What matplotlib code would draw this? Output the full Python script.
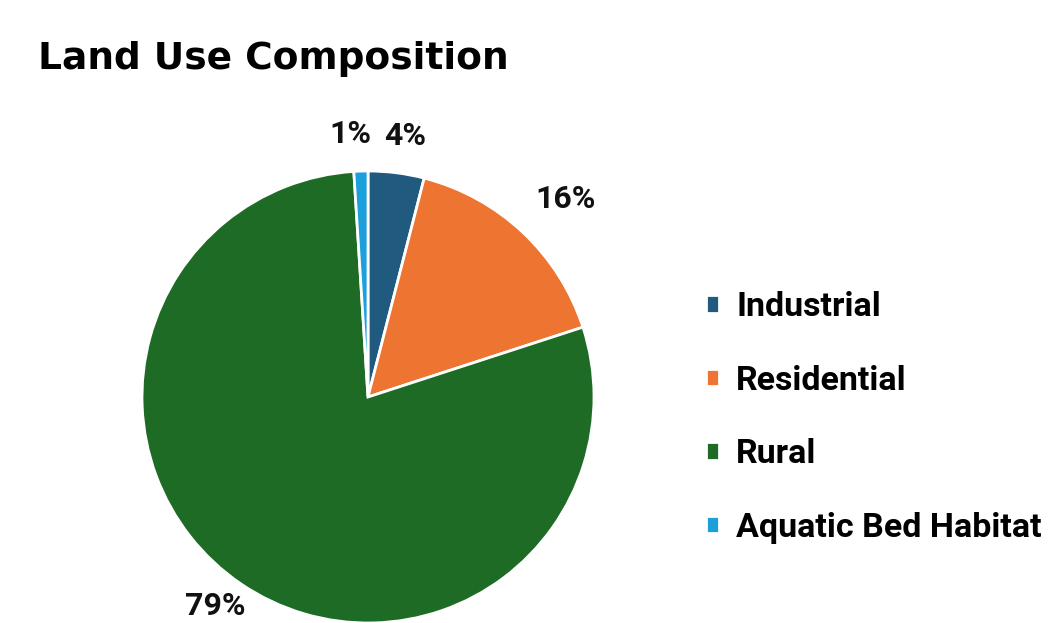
import matplotlib
matplotlib.use("Agg")
import matplotlib.pyplot as plt

# Données
categories = ["Industrial", "Residential", "Rural", "Aquatic Bed Habitat"]
shares = [4, 16, 79, 1]
colors = ["#215a7f", "#ed7431", "#1e6b25", "#1ba0dc"]

fig = plt.figure(figsize=(10.53, 6.23), dpi=100)
ax = fig.add_axes([0, 0, 1, 1])
ax.set_xlim(0, 1053)
ax.set_ylim(0, 623)
ax.set_aspect("equal")

wedges, texts, autotexts = ax.pie(
    shares,
    colors=colors,
    startangle=90,
    counterclock=False,
    center=(368, 226),
    radius=226,
    autopct=lambda p: f"{p:.0f}%",
    pctdistance=1.2,
    wedgeprops=dict(edgecolor="white", linewidth=2),
    textprops=dict(fontsize=23, fontweight="bold", family="Roboto", color="#111111"),
    frame=True,
)
ax.axis("off")

# 1% et 4% sont proches : on les écarte un peu
autotexts[0].set_ha("left")
autotexts[0].set_x(autotexts[0].get_position()[0] - 18)
autotexts[3].set_ha("right")
autotexts[3].set_x(autotexts[3].get_position()[0] + 12)
for t in (autotexts[0], autotexts[3]):
    t.set_y(t.get_position()[1] - 8)
# 16% un peu plus à droite
autotexts[1].set_x(autotexts[1].get_position()[0] + 12)
# 79% : remonté pour rester dans l'image
autotexts[2].set_va("bottom")
autotexts[2].set_y(2)

fig.text(0.036, 0.905, "Land Use Composition", fontsize=27, fontweight="bold",
         family="DejaVu Sans", va="center", ha="left")

fig.legend(wedges, categories, loc="center left", bbox_to_anchor=(0.641, 0.33),
           frameon=False, prop=dict(family="Roboto", weight="bold", size=24.5),
           handlelength=0.4, handleheight=0.4, handletextpad=0.5, labelspacing=1.22)

fig.savefig("out.png", dpi=100)
